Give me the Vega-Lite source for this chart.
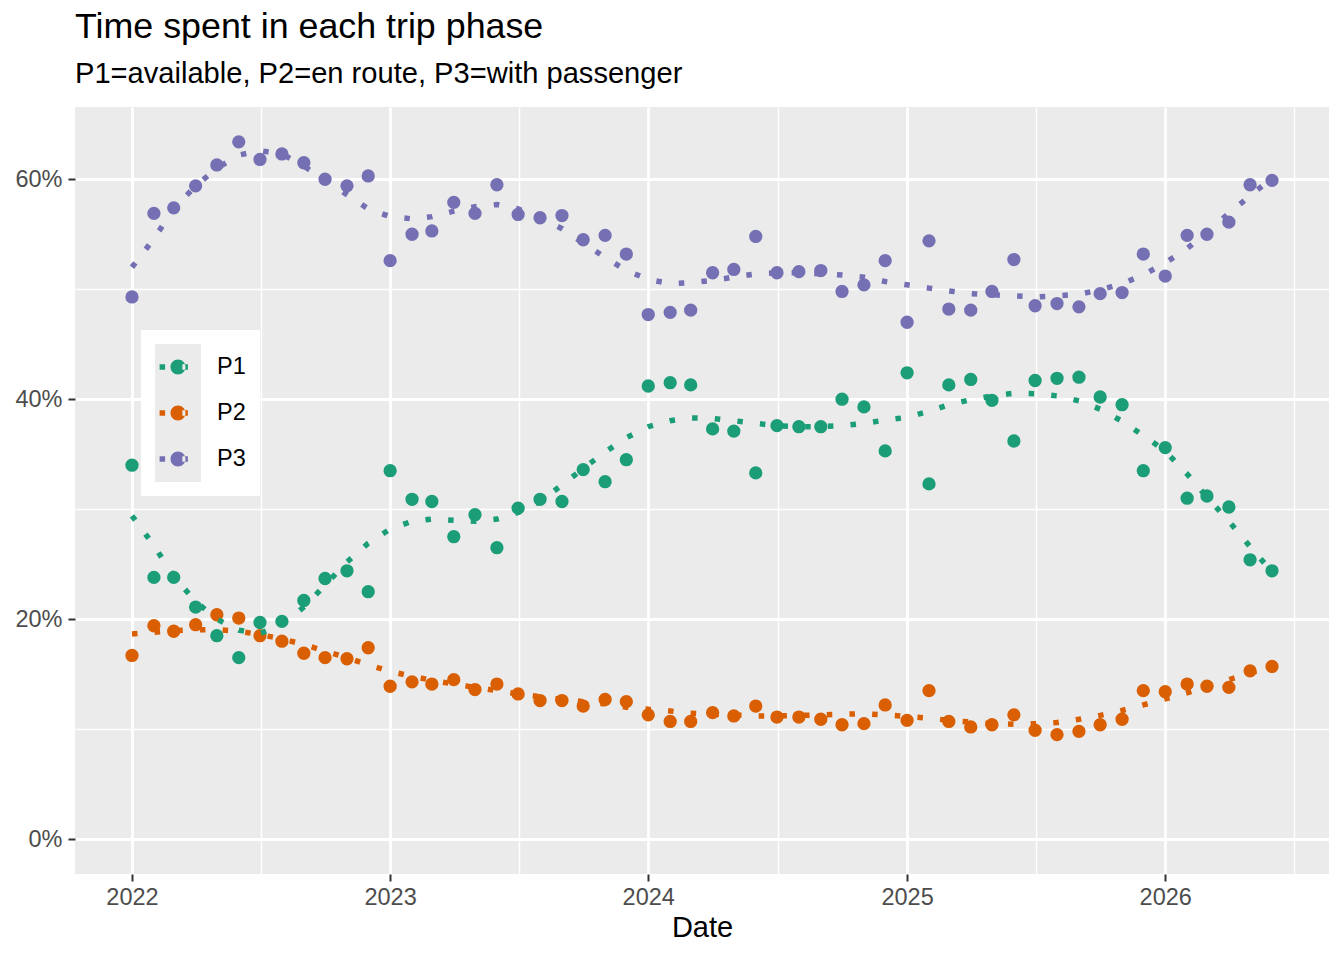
{
  "$schema": "https://vega.github.io/schema/vega-lite/v6.json",
  "autosize": {"type": "none"},
  "width": 1254,
  "height": 767,
  "padding": {"left": 75, "top": 107, "right": 15, "bottom": 86},
  "background": "white",
  "title": {
    "text": "Time spent in each trip phase",
    "subtitle": "P1=available, P2=en route, P3=with passenger",
    "anchor": "start",
    "frame": "group",
    "font": "Liberation Sans",
    "fontSize": 35.8,
    "fontWeight": "normal",
    "color": "black",
    "subtitleFont": "Liberation Sans",
    "subtitleFontSize": 29.1,
    "subtitleColor": "black",
    "subtitlePadding": 14,
    "offset": 17
  },
  "config": {
    "view": {"fill": "#EBEBEB", "stroke": null},
    "axis": {
      "domain": false,
      "gridColor": "white",
      "labelFont": "Liberation Sans",
      "labelFontSize": 23.5,
      "labelColor": "#4D4D4D",
      "tickColor": "#333333",
      "tickWidth": 2,
      "tickSize": 7,
      "titleFont": "Liberation Sans",
      "titleFontSize": 29,
      "titleFontWeight": "normal",
      "titleColor": "black"
    },
    "legend": {"labelFont": "Liberation Sans"}
  },
  "data": {
    "values": [
      {"date":"2022-01-01","phase":"P1","value":34.0},{"date":"2022-02-01","phase":"P1","value":23.8},{"date":"2022-03-01","phase":"P1","value":23.8},{"date":"2022-04-01","phase":"P1","value":21.1},{"date":"2022-05-01","phase":"P1","value":18.5},{"date":"2022-06-01","phase":"P1","value":16.5},{"date":"2022-07-01","phase":"P1","value":19.7},{"date":"2022-08-01","phase":"P1","value":19.8},{"date":"2022-09-01","phase":"P1","value":21.7},{"date":"2022-10-01","phase":"P1","value":23.7},{"date":"2022-11-01","phase":"P1","value":24.4},{"date":"2022-12-01","phase":"P1","value":22.5},
      {"date":"2023-01-01","phase":"P1","value":33.5},{"date":"2023-02-01","phase":"P1","value":30.9},{"date":"2023-03-01","phase":"P1","value":30.7},{"date":"2023-04-01","phase":"P1","value":27.5},{"date":"2023-05-01","phase":"P1","value":29.5},{"date":"2023-06-01","phase":"P1","value":26.5},{"date":"2023-07-01","phase":"P1","value":30.1},{"date":"2023-08-01","phase":"P1","value":30.9},{"date":"2023-09-01","phase":"P1","value":30.7},{"date":"2023-10-01","phase":"P1","value":33.6},{"date":"2023-11-01","phase":"P1","value":32.5},{"date":"2023-12-01","phase":"P1","value":34.5},
      {"date":"2024-01-01","phase":"P1","value":41.2},{"date":"2024-02-01","phase":"P1","value":41.5},{"date":"2024-03-01","phase":"P1","value":41.3},{"date":"2024-04-01","phase":"P1","value":37.3},{"date":"2024-05-01","phase":"P1","value":37.1},{"date":"2024-06-01","phase":"P1","value":33.3},{"date":"2024-07-01","phase":"P1","value":37.6},{"date":"2024-08-01","phase":"P1","value":37.5},{"date":"2024-09-01","phase":"P1","value":37.5},{"date":"2024-10-01","phase":"P1","value":40.0},{"date":"2024-11-01","phase":"P1","value":39.3},{"date":"2024-12-01","phase":"P1","value":35.3},
      {"date":"2025-01-01","phase":"P1","value":42.4},{"date":"2025-02-01","phase":"P1","value":32.3},{"date":"2025-03-01","phase":"P1","value":41.3},{"date":"2025-04-01","phase":"P1","value":41.8},{"date":"2025-05-01","phase":"P1","value":39.9},{"date":"2025-06-01","phase":"P1","value":36.2},{"date":"2025-07-01","phase":"P1","value":41.7},{"date":"2025-08-01","phase":"P1","value":41.9},{"date":"2025-09-01","phase":"P1","value":42.0},{"date":"2025-10-01","phase":"P1","value":40.2},{"date":"2025-11-01","phase":"P1","value":39.5},{"date":"2025-12-01","phase":"P1","value":33.5},
      {"date":"2026-01-01","phase":"P1","value":35.6},{"date":"2026-02-01","phase":"P1","value":31.0},{"date":"2026-03-01","phase":"P1","value":31.2},{"date":"2026-04-01","phase":"P1","value":30.2},{"date":"2026-05-01","phase":"P1","value":25.4},{"date":"2026-06-01","phase":"P1","value":24.4},
      {"date":"2022-01-01","phase":"P2","value":16.7},{"date":"2022-02-01","phase":"P2","value":19.4},{"date":"2022-03-01","phase":"P2","value":18.9},{"date":"2022-04-01","phase":"P2","value":19.5},{"date":"2022-05-01","phase":"P2","value":20.4},{"date":"2022-06-01","phase":"P2","value":20.1},{"date":"2022-07-01","phase":"P2","value":18.5},{"date":"2022-08-01","phase":"P2","value":18.0},{"date":"2022-09-01","phase":"P2","value":16.9},{"date":"2022-10-01","phase":"P2","value":16.5},{"date":"2022-11-01","phase":"P2","value":16.4},{"date":"2022-12-01","phase":"P2","value":17.4},
      {"date":"2023-01-01","phase":"P2","value":13.9},{"date":"2023-02-01","phase":"P2","value":14.3},{"date":"2023-03-01","phase":"P2","value":14.1},{"date":"2023-04-01","phase":"P2","value":14.5},{"date":"2023-05-01","phase":"P2","value":13.6},{"date":"2023-06-01","phase":"P2","value":14.1},{"date":"2023-07-01","phase":"P2","value":13.2},{"date":"2023-08-01","phase":"P2","value":12.6},{"date":"2023-09-01","phase":"P2","value":12.6},{"date":"2023-10-01","phase":"P2","value":12.1},{"date":"2023-11-01","phase":"P2","value":12.7},{"date":"2023-12-01","phase":"P2","value":12.5},
      {"date":"2024-01-01","phase":"P2","value":11.3},{"date":"2024-02-01","phase":"P2","value":10.7},{"date":"2024-03-01","phase":"P2","value":10.7},{"date":"2024-04-01","phase":"P2","value":11.5},{"date":"2024-05-01","phase":"P2","value":11.2},{"date":"2024-06-01","phase":"P2","value":12.1},{"date":"2024-07-01","phase":"P2","value":11.1},{"date":"2024-08-01","phase":"P2","value":11.1},{"date":"2024-09-01","phase":"P2","value":10.9},{"date":"2024-10-01","phase":"P2","value":10.4},{"date":"2024-11-01","phase":"P2","value":10.5},{"date":"2024-12-01","phase":"P2","value":12.2},
      {"date":"2025-01-01","phase":"P2","value":10.8},{"date":"2025-02-01","phase":"P2","value":13.5},{"date":"2025-03-01","phase":"P2","value":10.7},{"date":"2025-04-01","phase":"P2","value":10.2},{"date":"2025-05-01","phase":"P2","value":10.4},{"date":"2025-06-01","phase":"P2","value":11.3},{"date":"2025-07-01","phase":"P2","value":9.9},{"date":"2025-08-01","phase":"P2","value":9.5},{"date":"2025-09-01","phase":"P2","value":9.8},{"date":"2025-10-01","phase":"P2","value":10.4},{"date":"2025-11-01","phase":"P2","value":10.9},{"date":"2025-12-01","phase":"P2","value":13.5},
      {"date":"2026-01-01","phase":"P2","value":13.4},{"date":"2026-02-01","phase":"P2","value":14.1},{"date":"2026-03-01","phase":"P2","value":13.9},{"date":"2026-04-01","phase":"P2","value":13.8},{"date":"2026-05-01","phase":"P2","value":15.3},{"date":"2026-06-01","phase":"P2","value":15.7},
      {"date":"2022-01-01","phase":"P3","value":49.3},{"date":"2022-02-01","phase":"P3","value":56.9},{"date":"2022-03-01","phase":"P3","value":57.4},{"date":"2022-04-01","phase":"P3","value":59.4},{"date":"2022-05-01","phase":"P3","value":61.3},{"date":"2022-06-01","phase":"P3","value":63.4},{"date":"2022-07-01","phase":"P3","value":61.8},{"date":"2022-08-01","phase":"P3","value":62.3},{"date":"2022-09-01","phase":"P3","value":61.5},{"date":"2022-10-01","phase":"P3","value":60.0},{"date":"2022-11-01","phase":"P3","value":59.4},{"date":"2022-12-01","phase":"P3","value":60.3},
      {"date":"2023-01-01","phase":"P3","value":52.6},{"date":"2023-02-01","phase":"P3","value":55.0},{"date":"2023-03-01","phase":"P3","value":55.3},{"date":"2023-04-01","phase":"P3","value":57.9},{"date":"2023-05-01","phase":"P3","value":56.9},{"date":"2023-06-01","phase":"P3","value":59.5},{"date":"2023-07-01","phase":"P3","value":56.8},{"date":"2023-08-01","phase":"P3","value":56.5},{"date":"2023-09-01","phase":"P3","value":56.7},{"date":"2023-10-01","phase":"P3","value":54.5},{"date":"2023-11-01","phase":"P3","value":54.9},{"date":"2023-12-01","phase":"P3","value":53.2},
      {"date":"2024-01-01","phase":"P3","value":47.7},{"date":"2024-02-01","phase":"P3","value":47.9},{"date":"2024-03-01","phase":"P3","value":48.1},{"date":"2024-04-01","phase":"P3","value":51.5},{"date":"2024-05-01","phase":"P3","value":51.8},{"date":"2024-06-01","phase":"P3","value":54.8},{"date":"2024-07-01","phase":"P3","value":51.5},{"date":"2024-08-01","phase":"P3","value":51.6},{"date":"2024-09-01","phase":"P3","value":51.7},{"date":"2024-10-01","phase":"P3","value":49.8},{"date":"2024-11-01","phase":"P3","value":50.4},{"date":"2024-12-01","phase":"P3","value":52.6},
      {"date":"2025-01-01","phase":"P3","value":47.0},{"date":"2025-02-01","phase":"P3","value":54.4},{"date":"2025-03-01","phase":"P3","value":48.2},{"date":"2025-04-01","phase":"P3","value":48.1},{"date":"2025-05-01","phase":"P3","value":49.8},{"date":"2025-06-01","phase":"P3","value":52.7},{"date":"2025-07-01","phase":"P3","value":48.5},{"date":"2025-08-01","phase":"P3","value":48.7},{"date":"2025-09-01","phase":"P3","value":48.4},{"date":"2025-10-01","phase":"P3","value":49.6},{"date":"2025-11-01","phase":"P3","value":49.7},{"date":"2025-12-01","phase":"P3","value":53.2},
      {"date":"2026-01-01","phase":"P3","value":51.2},{"date":"2026-02-01","phase":"P3","value":54.9},{"date":"2026-03-01","phase":"P3","value":55.0},{"date":"2026-04-01","phase":"P3","value":56.1},{"date":"2026-05-01","phase":"P3","value":59.5},{"date":"2026-06-01","phase":"P3","value":59.9}
    ]
  },
  "encoding": {
    "x": {
      "field": "date",
      "type": "temporal",
      "title": "Date",
      "scale": {
        "type": "utc",
        "nice": false,
        "domain": [
          {"year": 2021, "month": 10, "date": 12, "hours": 10, "utc": true},
          {"year": 2026, "month": 8, "date": 20, "hours": 14, "utc": true}
        ]
      },
      "axis": {
        "values": [
          {"year": 2022, "month": 1, "date": 1, "utc": true},
          {"year": 2022, "month": 7, "date": 2, "utc": true},
          {"year": 2023, "month": 1, "date": 1, "utc": true},
          {"year": 2023, "month": 7, "date": 2, "utc": true},
          {"year": 2024, "month": 1, "date": 1, "utc": true},
          {"year": 2024, "month": 7, "date": 2, "utc": true},
          {"year": 2025, "month": 1, "date": 1, "utc": true},
          {"year": 2025, "month": 7, "date": 2, "utc": true},
          {"year": 2026, "month": 1, "date": 1, "utc": true},
          {"year": 2026, "month": 7, "date": 2, "utc": true}
        ],
        "labelExpr": "utcmonth(datum.value) == 0 ? utcFormat(datum.value, '%Y') : ''",
        "gridWidth": {"condition": {"test": "utcmonth(datum.value) == 0", "value": 2.8}, "value": 1.4},
        "tickOpacity": {"condition": {"test": "utcmonth(datum.value) == 0", "value": 1}, "value": 0},
        "labelPadding": 4,
        "titlePadding": 5,
        "labelFlush": false,
        "labelOverlap": false
      }
    },
    "y": {
      "field": "value",
      "type": "quantitative",
      "title": null,
      "scale": {"domain": [-3.17, 66.57], "nice": false, "zero": false},
      "axis": {
        "values": [0, 10, 20, 30, 40, 50, 60],
        "labelExpr": "datum.value % 20 == 0 ? datum.value + '%' : ''",
        "gridWidth": {"condition": {"test": "datum.value % 20 == 0", "value": 2.8}, "value": 1.4},
        "tickOpacity": {"condition": {"test": "datum.value % 20 == 0", "value": 1}, "value": 0},
        "labelPadding": 6,
        "labelOverlap": false
      }
    }
  },
  "layer": [
    {
      "transform": [{"filter": "datum.value < -100"}],
      "mark": {"type": "point", "filled": true, "color": "#EBEBEB", "size": 10},
      "encoding": {
        "shape": {
          "field": "phase",
          "type": "nominal",
          "scale": {
            "domain": ["P1", "P2", "P3"],
            "range": ["M-1,-1H1V1H-1Z", "M-1,-1H1V1H-1Z", "M-1,-1H1V1H-1Z"]
          },
          "legend": {
            "orient": "none",
            "legendX": 66,
            "legendY": 223,
            "direction": "vertical",
            "title": null,
            "fillColor": "white",
            "padding": 14,
            "symbolSize": 2116,
            "symbolFillColor": "#EBEBEB",
            "symbolStrokeWidth": 0,
            "symbolOpacity": 1,
            "labelFontSize": 23.5,
            "labelExpr": "''",
            "labelOffset": 45,
            "rowPadding": 0,
            "zindex": 1
          }
        }
      }
    },
    {
      "mark": {"type": "point", "filled": true, "size": 177, "opacity": 1},
      "encoding": {
        "color": {
          "field": "phase",
          "type": "nominal",
          "scale": {"range": ["#1B9E77", "#D95F02", "#7570B3"]},
          "legend": {
            "orient": "none",
            "legendX": 66,
            "legendY": 223,
            "direction": "vertical",
            "title": null,
            "padding": 14,
            "symbolType": "M-0.8,-0.12H-0.56V0.12H-0.8Z M0.19,-0.12H0.43V0.12H0.19Z M-0.326,0A0.326,0.326,0,1,0,0.326,0A0.326,0.326,0,1,0,-0.326,0Z",
            "symbolSize": 2116,
            "symbolStrokeWidth": 0,
            "symbolOpacity": 1,
            "labelFontSize": 23.5,
            "labelColor": "black",
            "labelOffset": 16,
            "rowPadding": 11,
            "zindex": 2
          }
        }
      }
    },
    {
      "data": {
        "values": [
          {"date":"2022-01-01","phase":"P1","value":29.4},{"date":"2022-02-01","phase":"P1","value":26.7},{"date":"2022-03-01","phase":"P1","value":23.9},{"date":"2022-04-01","phase":"P1","value":21.6},{"date":"2022-05-01","phase":"P1","value":20.0},{"date":"2022-06-01","phase":"P1","value":19.0},{"date":"2022-07-01","phase":"P1","value":18.7},{"date":"2022-08-01","phase":"P1","value":19.5},{"date":"2022-09-01","phase":"P1","value":21.1},{"date":"2022-10-01","phase":"P1","value":23.1},{"date":"2022-11-01","phase":"P1","value":25.2},{"date":"2022-12-01","phase":"P1","value":26.9},
          {"date":"2023-01-01","phase":"P1","value":28.2},{"date":"2023-02-01","phase":"P1","value":28.9},{"date":"2023-03-01","phase":"P1","value":29.1},{"date":"2023-04-01","phase":"P1","value":29.0},{"date":"2023-05-01","phase":"P1","value":28.9},{"date":"2023-06-01","phase":"P1","value":29.1},{"date":"2023-07-01","phase":"P1","value":29.7},{"date":"2023-08-01","phase":"P1","value":30.7},{"date":"2023-09-01","phase":"P1","value":32.2},{"date":"2023-10-01","phase":"P1","value":33.7},{"date":"2023-11-01","phase":"P1","value":35.2},{"date":"2023-12-01","phase":"P1","value":36.5},
          {"date":"2024-01-01","phase":"P1","value":37.5},{"date":"2024-02-01","phase":"P1","value":38.05},{"date":"2024-03-01","phase":"P1","value":38.3},{"date":"2024-04-01","phase":"P1","value":38.25},{"date":"2024-05-01","phase":"P1","value":38.05},{"date":"2024-06-01","phase":"P1","value":37.8},{"date":"2024-07-01","phase":"P1","value":37.6},{"date":"2024-08-01","phase":"P1","value":37.5},{"date":"2024-09-01","phase":"P1","value":37.5},{"date":"2024-10-01","phase":"P1","value":37.6},{"date":"2024-11-01","phase":"P1","value":37.8},{"date":"2024-12-01","phase":"P1","value":38.1},
          {"date":"2025-01-01","phase":"P1","value":38.35},{"date":"2025-02-01","phase":"P1","value":38.9},{"date":"2025-03-01","phase":"P1","value":39.5},{"date":"2025-04-01","phase":"P1","value":39.95},{"date":"2025-05-01","phase":"P1","value":40.3},{"date":"2025-06-01","phase":"P1","value":40.55},{"date":"2025-07-01","phase":"P1","value":40.5},{"date":"2025-08-01","phase":"P1","value":40.3},{"date":"2025-09-01","phase":"P1","value":39.85},{"date":"2025-10-01","phase":"P1","value":39.1},{"date":"2025-11-01","phase":"P1","value":38.0},{"date":"2025-12-01","phase":"P1","value":36.7},
          {"date":"2026-01-01","phase":"P1","value":35.3},{"date":"2026-02-01","phase":"P1","value":33.2},{"date":"2026-03-01","phase":"P1","value":31.1},{"date":"2026-04-01","phase":"P1","value":28.9},{"date":"2026-05-01","phase":"P1","value":26.6},{"date":"2026-06-01","phase":"P1","value":24.3},
          {"date":"2022-01-01","phase":"P2","value":18.65},{"date":"2022-02-01","phase":"P2","value":18.8},{"date":"2022-03-01","phase":"P2","value":18.95},{"date":"2022-04-01","phase":"P2","value":19.05},{"date":"2022-05-01","phase":"P2","value":19.05},{"date":"2022-06-01","phase":"P2","value":18.9},{"date":"2022-07-01","phase":"P2","value":18.6},{"date":"2022-08-01","phase":"P2","value":18.2},{"date":"2022-09-01","phase":"P2","value":17.7},{"date":"2022-10-01","phase":"P2","value":17.1},{"date":"2022-11-01","phase":"P2","value":16.5},{"date":"2022-12-01","phase":"P2","value":15.85},
          {"date":"2023-01-01","phase":"P2","value":15.25},{"date":"2023-02-01","phase":"P2","value":14.8},{"date":"2023-03-01","phase":"P2","value":14.45},{"date":"2023-04-01","phase":"P2","value":14.1},{"date":"2023-05-01","phase":"P2","value":13.8},{"date":"2023-06-01","phase":"P2","value":13.5},{"date":"2023-07-01","phase":"P2","value":13.2},{"date":"2023-08-01","phase":"P2","value":12.95},{"date":"2023-09-01","phase":"P2","value":12.7},{"date":"2023-10-01","phase":"P2","value":12.5},{"date":"2023-11-01","phase":"P2","value":12.3},{"date":"2023-12-01","phase":"P2","value":12.0},
          {"date":"2024-01-01","phase":"P2","value":11.8},{"date":"2024-02-01","phase":"P2","value":11.65},{"date":"2024-03-01","phase":"P2","value":11.45},{"date":"2024-04-01","phase":"P2","value":11.35},{"date":"2024-05-01","phase":"P2","value":11.3},{"date":"2024-06-01","phase":"P2","value":11.2},{"date":"2024-07-01","phase":"P2","value":11.2},{"date":"2024-08-01","phase":"P2","value":11.25},{"date":"2024-09-01","phase":"P2","value":11.3},{"date":"2024-10-01","phase":"P2","value":11.35},{"date":"2024-11-01","phase":"P2","value":11.4},{"date":"2024-12-01","phase":"P2","value":11.3},
          {"date":"2025-01-01","phase":"P2","value":11.15},{"date":"2025-02-01","phase":"P2","value":11.0},{"date":"2025-03-01","phase":"P2","value":10.8},{"date":"2025-04-01","phase":"P2","value":10.65},{"date":"2025-05-01","phase":"P2","value":10.5},{"date":"2025-06-01","phase":"P2","value":10.45},{"date":"2025-07-01","phase":"P2","value":10.5},{"date":"2025-08-01","phase":"P2","value":10.6},{"date":"2025-09-01","phase":"P2","value":10.9},{"date":"2025-10-01","phase":"P2","value":11.25},{"date":"2025-11-01","phase":"P2","value":11.7},{"date":"2025-12-01","phase":"P2","value":12.2},
          {"date":"2026-01-01","phase":"P2","value":12.75},{"date":"2026-02-01","phase":"P2","value":13.3},{"date":"2026-03-01","phase":"P2","value":13.9},{"date":"2026-04-01","phase":"P2","value":14.5},{"date":"2026-05-01","phase":"P2","value":15.1},{"date":"2026-06-01","phase":"P2","value":15.7},
          {"date":"2022-01-01","phase":"P3","value":52.0},{"date":"2022-02-01","phase":"P3","value":54.6},{"date":"2022-03-01","phase":"P3","value":57.3},{"date":"2022-04-01","phase":"P3","value":59.4},{"date":"2022-05-01","phase":"P3","value":61.0},{"date":"2022-06-01","phase":"P3","value":62.2},{"date":"2022-07-01","phase":"P3","value":62.6},{"date":"2022-08-01","phase":"P3","value":62.3},{"date":"2022-09-01","phase":"P3","value":61.2},{"date":"2022-10-01","phase":"P3","value":59.9},{"date":"2022-11-01","phase":"P3","value":58.6},{"date":"2022-12-01","phase":"P3","value":57.3},
          {"date":"2023-01-01","phase":"P3","value":56.6},{"date":"2023-02-01","phase":"P3","value":56.4},{"date":"2023-03-01","phase":"P3","value":56.6},{"date":"2023-04-01","phase":"P3","value":57.1},{"date":"2023-05-01","phase":"P3","value":57.5},{"date":"2023-06-01","phase":"P3","value":57.7},{"date":"2023-07-01","phase":"P3","value":57.3},{"date":"2023-08-01","phase":"P3","value":56.5},{"date":"2023-09-01","phase":"P3","value":55.5},{"date":"2023-10-01","phase":"P3","value":54.2},{"date":"2023-11-01","phase":"P3","value":52.9},{"date":"2023-12-01","phase":"P3","value":51.7},
          {"date":"2024-01-01","phase":"P3","value":50.9},{"date":"2024-02-01","phase":"P3","value":50.5},{"date":"2024-03-01","phase":"P3","value":50.6},{"date":"2024-04-01","phase":"P3","value":50.8},{"date":"2024-05-01","phase":"P3","value":51.1},{"date":"2024-06-01","phase":"P3","value":51.4},{"date":"2024-07-01","phase":"P3","value":51.5},{"date":"2024-08-01","phase":"P3","value":51.5},{"date":"2024-09-01","phase":"P3","value":51.4},{"date":"2024-10-01","phase":"P3","value":51.3},{"date":"2024-11-01","phase":"P3","value":51.1},{"date":"2024-12-01","phase":"P3","value":50.7},
          {"date":"2025-01-01","phase":"P3","value":50.4},{"date":"2025-02-01","phase":"P3","value":50.1},{"date":"2025-03-01","phase":"P3","value":49.85},{"date":"2025-04-01","phase":"P3","value":49.6},{"date":"2025-05-01","phase":"P3","value":49.5},{"date":"2025-06-01","phase":"P3","value":49.4},{"date":"2025-07-01","phase":"P3","value":49.3},{"date":"2025-08-01","phase":"P3","value":49.4},{"date":"2025-09-01","phase":"P3","value":49.55},{"date":"2025-10-01","phase":"P3","value":49.95},{"date":"2025-11-01","phase":"P3","value":50.5},{"date":"2025-12-01","phase":"P3","value":51.3},
          {"date":"2026-01-01","phase":"P3","value":52.4},{"date":"2026-02-01","phase":"P3","value":53.7},{"date":"2026-03-01","phase":"P3","value":55.2},{"date":"2026-04-01","phase":"P3","value":56.9},{"date":"2026-05-01","phase":"P3","value":58.5},{"date":"2026-06-01","phase":"P3","value":60.1}
        ]
      },
      "mark": {"type": "line", "strokeWidth": 5.5, "strokeDash": [5.5, 17.2], "strokeCap": "butt"},
      "encoding": {
        "color": {"field": "phase", "type": "nominal", "legend": null}
      }
    }
  ]
}
